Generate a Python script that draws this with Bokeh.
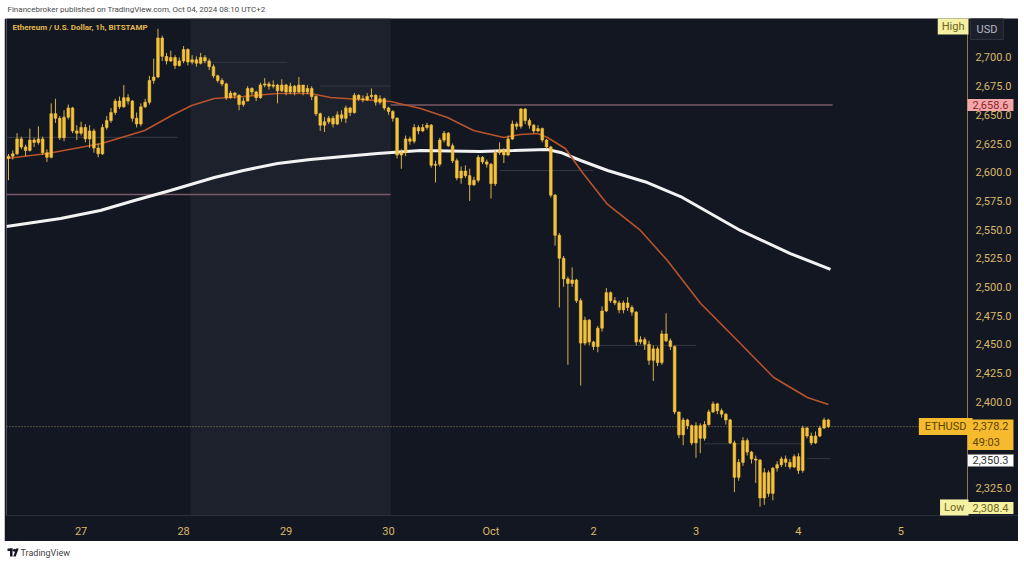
from bokeh.plotting import figure
from bokeh.models import Range1d, FixedTicker, NumeralTickFormatter, Label, BoxAnnotation, Spacer
from bokeh.layouts import column, row
from bokeh.embed import file_html
from bokeh.resources import INLINE
from bokeh.core.properties import value

# ---------------- data (ETH/USD, 1h, Bitstamp; hours counted from Sept 26 00:00 UTC+2) -------------
first_hour = 7
first_open = 2612.0
close = [
    2614, 2616, 2629, 2622, 2619, 2628, 2626, 2629, 2617, 2613,
    2651, 2647, 2630, 2648, 2656, 2636, 2634, 2639, 2629, 2636,
    2621, 2616, 2639, 2645, 2652, 2662, 2657, 2665, 2662, 2647,
    2642, 2657, 2661, 2680, 2683, 2717, 2701, 2697, 2700, 2693,
    2697, 2707, 2696, 2698, 2695, 2700, 2697, 2692, 2684, 2680,
    2677, 2665, 2669, 2667, 2659, 2662, 2673, 2670, 2665, 2676,
    2677, 2675, 2676, 2671, 2676, 2670, 2675, 2670, 2676, 2670,
    2673, 2666, 2651, 2641, 2644, 2647, 2642, 2650, 2647, 2656,
    2652, 2667, 2664, 2663, 2666, 2667, 2661, 2664, 2656, 2653,
    2647, 2615, 2617, 2629, 2627, 2639, 2636, 2639, 2641, 2606,
    2607, 2628, 2634, 2623, 2610, 2595, 2601, 2597, 2589, 2593,
    2613, 2609, 2607, 2590, 2617, 2619, 2615, 2629, 2642, 2640,
    2655, 2645, 2641, 2636, 2638, 2628, 2622, 2580, 2545, 2525,
    2507, 2503, 2506, 2488, 2451, 2471, 2452, 2448, 2464, 2479,
    2495, 2488, 2486, 2480, 2486, 2482, 2478, 2452, 2454, 2450,
    2436, 2446, 2434, 2459, 2453, 2448, 2391, 2371, 2384, 2379,
    2364, 2379, 2368, 2380, 2391, 2398, 2392, 2389, 2384, 2364,
    2334, 2347, 2366, 2356, 2350, 2349, 2316, 2338, 2320, 2342,
    2345, 2350, 2347, 2343, 2352, 2340, 2377, 2370, 2364, 2370,
    2377, 2384, 2378.2,
]
high = [
    2616, 2619, 2634, 2631, 2624, 2638, 2630, 2640, 2631, 2620,
    2660, 2664, 2649, 2654, 2659, 2657, 2641, 2644, 2642, 2641,
    2638, 2625, 2642, 2649, 2656, 2664, 2666, 2676, 2668, 2663,
    2652, 2660, 2664, 2684, 2699, 2725, 2719, 2704, 2706, 2702,
    2700, 2710, 2708, 2702, 2701, 2704, 2702, 2699, 2694, 2685,
    2682, 2678, 2671, 2670, 2668, 2665, 2675, 2674, 2671, 2678,
    2682, 2679, 2680, 2677, 2681, 2677, 2678, 2676, 2683, 2676,
    2676, 2675, 2667, 2652, 2648, 2649, 2649, 2653, 2654, 2658,
    2657, 2669, 2668, 2667, 2669, 2673, 2668, 2667, 2665, 2657,
    2654, 2648, 2620, 2632, 2631, 2642, 2641, 2642, 2643, 2642,
    2610, 2630, 2636, 2635, 2625, 2612, 2605, 2606, 2603, 2596,
    2615, 2614, 2611, 2608, 2619, 2626, 2621, 2632, 2645, 2644,
    2656, 2656, 2647, 2642, 2641, 2639, 2629, 2623, 2581, 2547,
    2527, 2509, 2517, 2507, 2490, 2474, 2472, 2453, 2466, 2483,
    2499, 2496, 2491, 2488, 2488, 2491, 2484, 2479, 2457, 2456,
    2453, 2449, 2448, 2462, 2477, 2455, 2449, 2391, 2386, 2385,
    2380, 2382, 2381, 2383, 2393, 2400, 2399, 2394, 2390, 2385,
    2366, 2350, 2369, 2368, 2357, 2353, 2350, 2342, 2340, 2343,
    2348, 2352, 2353, 2350, 2354, 2355, 2379, 2378, 2373, 2374,
    2379, 2386, 2385,
]
low = [
    2593, 2611, 2615, 2620, 2614, 2618, 2622, 2624, 2615, 2609,
    2612, 2643, 2628, 2627, 2646, 2634, 2628, 2632, 2626, 2621,
    2617, 2613, 2615, 2637, 2643, 2650, 2655, 2656, 2659, 2644,
    2639, 2640, 2656, 2659, 2677, 2682, 2697, 2694, 2696, 2690,
    2692, 2695, 2693, 2694, 2692, 2694, 2695, 2689, 2682, 2678,
    2675, 2663, 2664, 2664, 2654, 2657, 2662, 2667, 2662, 2664,
    2674, 2672, 2673, 2660, 2670, 2667, 2668, 2667, 2669, 2667,
    2668, 2663, 2649, 2636, 2635, 2642, 2639, 2641, 2644, 2643,
    2649, 2651, 2662, 2661, 2662, 2664, 2658, 2659, 2654, 2650,
    2644, 2612, 2603, 2614, 2624, 2625, 2633, 2635, 2637, 2604,
    2591, 2605, 2626, 2622, 2608, 2593, 2590, 2595, 2575, 2588,
    2591, 2607, 2604, 2577, 2588, 2615, 2608, 2614, 2628, 2637,
    2638, 2642, 2638, 2634, 2635, 2626, 2620, 2578, 2536, 2482,
    2500, 2432, 2500, 2486, 2414, 2449, 2449, 2445, 2443, 2461,
    2478, 2486, 2484, 2477, 2477, 2479, 2475, 2449, 2450, 2445,
    2432, 2418, 2431, 2432, 2452, 2445, 2389, 2368, 2362, 2376,
    2362, 2351, 2355, 2366, 2379, 2390, 2389, 2386, 2380, 2363,
    2321, 2331, 2344, 2353, 2346, 2329, 2308.4, 2310, 2317, 2314,
    2339, 2343, 2343, 2341, 2342, 2337, 2338, 2368, 2362, 2363,
    2369, 2376, 2377,
]

ema_hour = [6.5, 16.1, 28.8, 38.9, 45.2, 49.9, 55.2, 62.0, 70.0, 77.7, 82.4, 89.4, 96.5, 103.5,
            109.8, 115.9, 123.0, 126.9, 130.9, 133.2, 137.4, 141.4, 147.3, 155.0, 161.3, 169.1,
            178.4, 186.2, 194.1, 199.0]
ema_price = [2612.0, 2616.3, 2625.0, 2636.4, 2649.4, 2658.2, 2664.3, 2666.0, 2668.6, 2668.6,
             2665.1, 2663.4, 2661.6, 2655.5, 2647.7, 2636.4, 2630.3, 2632.9, 2633.8, 2630.3,
             2620.7, 2599.8, 2571.9, 2549.2, 2523.0, 2485.5, 2450.7, 2421.0, 2403.6, 2397.5]
sma_hour = [6.5, 19.2, 28.5, 36.5, 44.9, 55.2, 62.0, 70.0, 77.7, 85.5, 93.4, 103.5, 117.5, 125.3,
            133.2, 136.3, 141.0, 147.3, 156.6, 164.4, 178.4, 190.1, 199.5]
sma_price = [2552.7, 2559.6, 2566.6, 2575.3, 2584.1, 2595.4, 2601.5, 2607.6, 2611.1, 2613.7,
             2616.3, 2618.9, 2618.1, 2618.9, 2619.8, 2617.2, 2610.2, 2601.5, 2591.0, 2578.8,
             2549.2, 2529.1, 2515.2]

level_price = [2580.6, 2658.6, 2630.4, 2695.8, 2675.2, 2601.5, 2449.0, 2363.2, 2350.3]
level_from = [6.5, 96.5, 6.5, 49.6, 80.0, 122.0, 145.2, 170.0, 194.1]
level_to = [96.5, 200.0, 46.6, 72.3, 96.5, 143.9, 168.0, 192.8, 199.5]
level_kind = ["key", "key", "day", "day", "day", "day", "day", "day", "day"]

weekend_from, weekend_to = 49.6, 96.5
last_price = 2378.2
countdown = "49:03"
prev_close = 2350.3
period_low = 2308.4
resistance = 2658.6

x_tick_hours = [24, 48, 72, 96, 120, 144, 168, 192, 216]
x_tick_labels = ["27", "28", "29", "30", "Oct", "2", "3", "4", "5"]
price_ticks = [2325, 2350, 2375, 2400, 2425, 2450, 2475, 2500, 2525, 2550, 2575,
               2600, 2625, 2650, 2675, 2700]

header_text = "Financebroker published on TradingView.com, Oct 04, 2024 08:10 UTC+2"
legend_text = "Ethereum / U.S. Dollar, 1h, BITSTAMP"
footer_text = "TradingView"

# ---------------- derived -------------
hours = [first_hour + i for i in range(len(close))]
opens = [first_open] + close[:-1]
tops = [max(o, c) for o, c in zip(opens, close)]
bots = [min(o, c) for o, c in zip(opens, close)]

BG = "#131722"
WEEKEND = "#1d212c"
CANDLE = "#f5c23b"
WICK = "#d6b04a"
AXTXT = "#d9b867"
FONT = "Roboto"
AXIS_HOUR = 231.59   # position of the price-scale separator
Y0, Y1 = 2300.7, 2734.0

# ---------------- header figure -------------
top = figure(width=1018, height=18, x_range=Range1d(0, 1018), y_range=Range1d(0, 18),
             toolbar_location=None, output_backend="svg", min_border=0,
             x_axis_type=None, y_axis_type=None, outline_line_color=None,
             background_fill_color="white", border_fill_color="white")
top.text(x=[7], y=[9], text=[header_text], text_baseline="middle", text_align="left",
         text_font=value(FONT), text_font_size="8px", text_color="#4a4a4a")

# ---------------- main chart -------------
p = figure(frame_width=1012, frame_height=497,
           x_range=Range1d(6.53, 243.53), y_range=Range1d(Y0, Y1),
           y_axis_location="right", toolbar_location=None, output_backend="svg",
           min_border_left=2, min_border_top=0, min_border_right=0, min_border_bottom=26,
           background_fill_color=BG, border_fill_color=BG, outline_line_color=None)
p.xgrid.visible = False
p.ygrid.visible = False

p.xaxis.ticker = FixedTicker(ticks=x_tick_hours)
p.xaxis.major_label_overrides = {h: t for h, t in zip(x_tick_hours, x_tick_labels)}
p.yaxis.ticker = FixedTicker(ticks=price_ticks)
p.yaxis.formatter = NumeralTickFormatter(format="0,0.0")
p.yaxis.fixed_location = AXIS_HOUR

for ax in (p.xaxis[0], p.yaxis[0]):
    ax.major_tick_line_color = None
    ax.minor_tick_line_color = None
    ax.major_tick_out = 0
    ax.major_tick_in = 0
    ax.minor_tick_out = 0
    ax.minor_tick_in = 0
    ax.major_label_text_color = AXTXT
    ax.major_label_text_font = FONT
    ax.major_label_text_font_size = "11px"
    ax.major_label_standoff = 8
p.xaxis[0].axis_line_color = "#2a2e39"
p.yaxis[0].axis_line_color = "#8c7a4c"
p.xaxis[0].major_label_standoff = 9

p.add_layout(BoxAnnotation(left=weekend_from, right=weekend_to, fill_color=WEEKEND,
                           fill_alpha=1.0, line_color=None, level="underlay"))

lvl_colors = ["#7a5866" if k == "key" else "#363a46" for k in level_kind]
lvl_widths = [1.6 if k == "key" else 1.0 for k in level_kind]
p.segment(x0=level_from, y0=level_price, x1=level_to, y1=level_price,
          line_color=lvl_colors, line_width=lvl_widths)

p.segment(x0=[6.53], y0=[last_price], x1=[AXIS_HOUR], y1=[last_price],
          line_color="#9c8a5a", line_dash="1 2", line_width=1)

p.line(sma_hour, sma_price, line_color="#f2f2f2", line_width=3)
p.line(ema_hour, ema_price, line_color="#b9532c", line_width=1.6)

p.segment(x0=hours, y0=low, x1=hours, y1=high, line_color=WICK, line_width=1)
p.vbar(x=hours, width=0.62, top=tops, bottom=bots, fill_color=CANDLE, line_color=CANDLE,
       line_width=0.6)


def box(x, y, text, bg, fg, align="left", baseline="middle", y_units="data",
        border=None, size="11px", pad=(5, 2), weight="normal"):
    p.add_layout(Label(x=x, y=y, x_units="screen", y_units=y_units, text=text,
                       text_align=align, text_baseline=baseline, text_color=fg,
                       text_font=FONT, text_font_size=size, text_font_style=weight,
                       background_fill_color=bg, background_fill_alpha=1.0 if bg else 0.0,
                       border_line_color=border, padding=pad))


box(6, 488, legend_text, None, "#e3b84b", y_units="screen", size="8px", pad=0, weight="bold")
box(964, 486.5, "USD", "#1c202b", "#b7bac4", y_units="screen", border="#2e3240", pad=(6, 4))
box(962, 489.5, "High", "#f5f1a2", "#6d6320", align="right", y_units="screen", pad=(4, 2))
box(961, resistance, f"{resistance:,.1f}", "#f4a7a8", "#8b1f2a")
box(966, last_price, "ETHUSD", "#f5ba2e", "#5c4300", align="right", pad=(6, 2))
box(961, 2384.4, f"{last_price:,.1f}\n{countdown}", "#f5ba2e", "#5c4300", baseline="top", pad=(5, 1))
box(961, 2348.7, f"{prev_close:,.1f}", "#ffffff", "#333333", border="#888888")
box(962, 2307.3, "Low", "#f5f1a2", "#6d6320", align="right", pad=(4, 2))
box(961, 2307.3, f"{period_low:,.1f}", "#f5f1a2", "#6d6320")

# ---------------- footer figure -------------
bot = figure(width=1018, height=24, x_range=Range1d(0, 1018), y_range=Range1d(0, 24),
             toolbar_location=None, output_backend="svg", min_border=0,
             x_axis_type=None, y_axis_type=None, outline_line_color=None,
             background_fill_color="white", border_fill_color="white")
bot.quad(left=[7, 9.5], right=[12, 12], top=[17, 17], bottom=[14.6, 9], fill_color="#131722",
         line_color=None)
bot.scatter(x=[14], y=[15.2], size=3, marker="circle", fill_color="#131722", line_color=None)
bot.patch(x=[15.6, 18.2, 15.2, 12.8], y=[17, 17, 9, 9], fill_color="#131722", line_color=None)
bot.text(x=[20], y=[12.5], text=[footer_text], text_baseline="middle", text_align="left",
         text_font=value(FONT), text_font_size="9px", text_color="#444444")

layout = column(top, row(Spacer(width=4, height=523), p, spacing=0), bot, spacing=0)
open("out.html", "w").write(file_html(layout, INLINE))
